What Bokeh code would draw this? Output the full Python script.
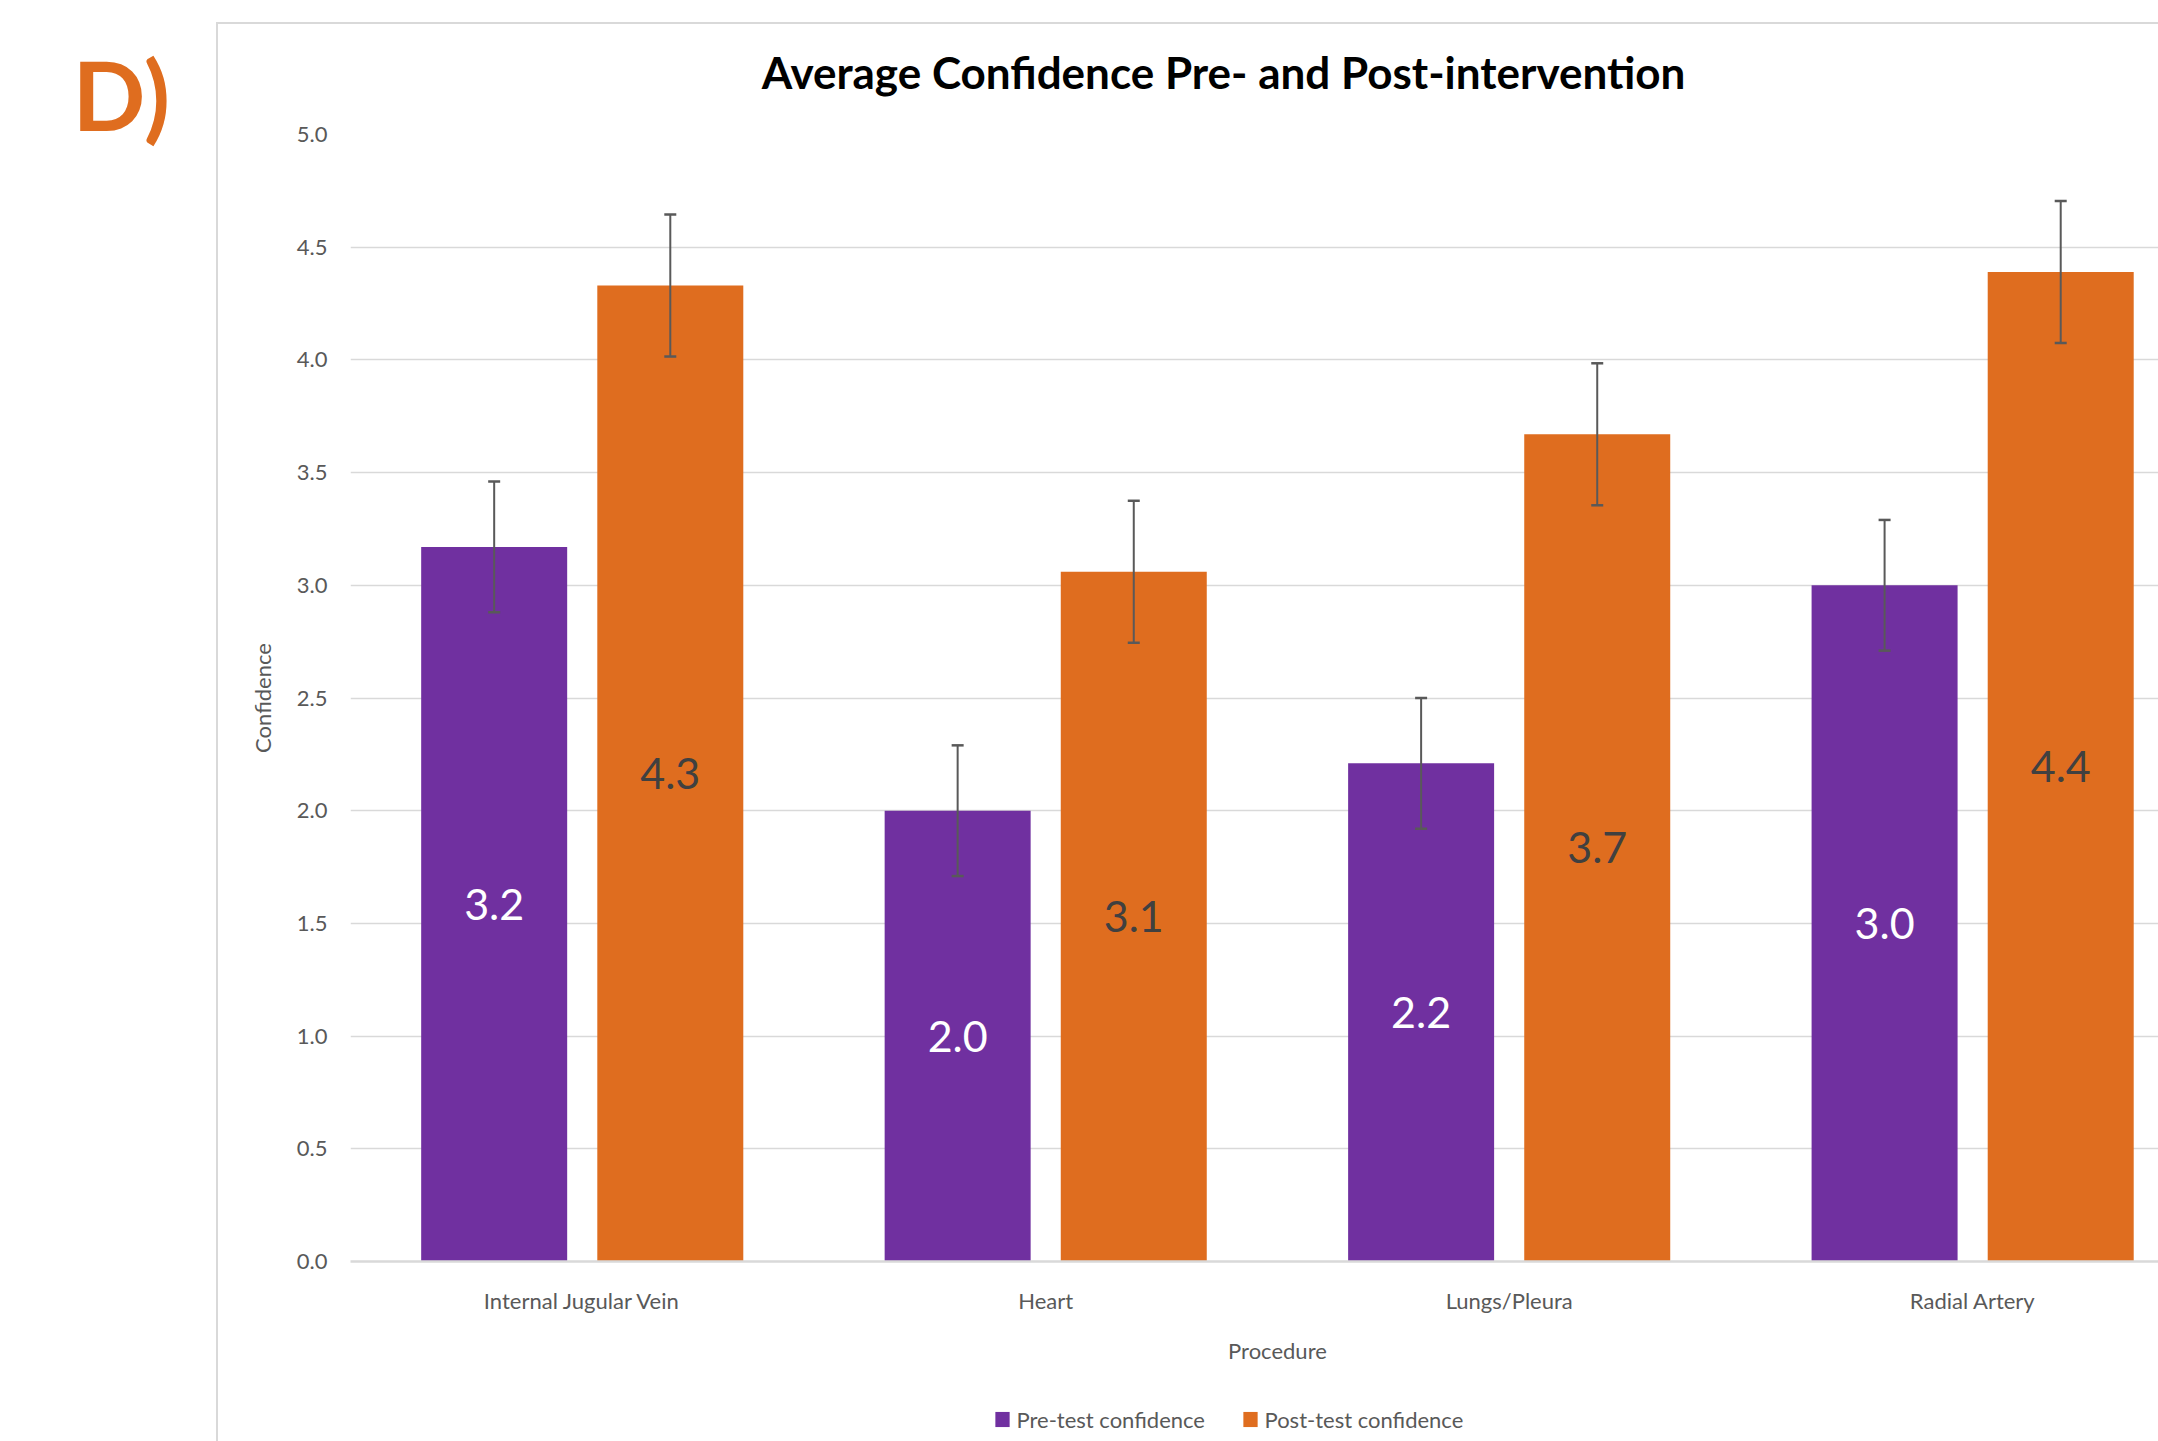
from bokeh.plotting import figure
from bokeh.models import (Range1d, FixedTicker, ColumnDataSource, Whisker, TeeHead, Label)
from bokeh.core.properties import value
from bokeh.embed import file_html
from bokeh.resources import INLINE

# ---------------- data ----------------
categories = ["Internal Jugular Vein", "Heart", "Lungs/Pleura", "Radial Artery"]
series_names = ["Pre-test confidence", "Post-test confidence"]
pre_values = [3.17, 2.00, 2.21, 3.00]
post_values = [4.33, 3.06, 3.67, 4.39]
pre_errors = [0.29, 0.29, 0.29, 0.29]
post_errors = [0.315, 0.315, 0.315, 0.315]
y_ticks = [0.0, 0.5, 1.0, 1.5, 2.0, 2.5, 3.0, 3.5, 4.0, 4.5, 5.0]

# ---------------- style / geometry ----------------
FONT = "Lato"
PURPLE = "#7030A0"
ORANGE = "#DF6D1F"
GREY_TXT = "#595959"
GRID = "#D9D9D9"
series_colors = [PURPLE, ORANGE]

W, H = 2158, 1441
FL, FR, FT, FB = 350, 2158, 134, 1261      # frame edges in canvas px
X_END, Y_END = 3.901, 5.0


def dx(px):
    return (px - FL) / (FR - FL) * X_END


def dy(py):
    return (FB - py) / (FB - FT) * Y_END


p = figure(width=W, height=H, output_backend="svg", toolbar_location=None,
           x_range=Range1d(0, X_END), y_range=Range1d(0, Y_END),
           min_border_left=FL, min_border_right=W - FR,
           min_border_top=FT, min_border_bottom=H - FB)
p.outline_line_color = None
p.background_fill_color = "white"
p.border_fill_color = None
# chart-area border (top and left edges) drawn behind the transparent canvas border
p.styles = {
    "background-color": "white",
    "background-image": "linear-gradient(#D9D9D9,#D9D9D9), linear-gradient(#D9D9D9,#D9D9D9)",
    "background-position": "216px 22px, 216px 22px",
    "background-size": "100% 2px, 2px 100%",
    "background-repeat": "no-repeat",
}

centers = [i + 0.5 for i in range(len(categories))]
off, bw = 0.19, 0.315


def make_source(vals, errs, sign):
    return ColumnDataSource(dict(
        x=[c + sign * off for c in centers], top=vals,
        lo=[v - e for v, e in zip(vals, errs)],
        hi=[v + e for v, e in zip(vals, errs)],
        ly=[v / 2 for v in vals],
        lab=[f"{v:.1f}" for v in vals]))


src_pre = make_source(pre_values, pre_errors, -1)
src_post = make_source(post_values, post_errors, +1)

p.vbar(x="x", top="top", width=bw, source=src_pre, fill_color=PURPLE, line_color=None)
p.vbar(x="x", top="top", width=bw, source=src_post, fill_color=ORANGE, line_color=None)

for src in (src_pre, src_post):
    w = Whisker(base="x", lower="lo", upper="hi", source=src, line_color=GREY_TXT, line_width=2,
                level="overlay",
                upper_head=TeeHead(size=12, line_color=GREY_TXT, line_width=2.5),
                lower_head=TeeHead(size=12, line_color=GREY_TXT, line_width=2.5))
    p.add_layout(w)

p.text(x="x", y="ly", text="lab", source=src_pre, text_align="center", text_baseline="middle",
       text_font=value(FONT), text_font_size="43px", text_color="white")
p.text(x="x", y="ly", text="lab", source=src_post, text_align="center", text_baseline="middle",
       text_font=value(FONT), text_font_size="43px", text_color="#404040")

# axes
p.xgrid.grid_line_color = None
p.ygrid.grid_line_color = GRID
p.ygrid.grid_line_width = 1.5
p.yaxis.ticker = FixedTicker(ticks=y_ticks)
p.yaxis.major_label_overrides = {t: f"{t:.1f}" for t in y_ticks}
p.yaxis.axis_line_color = None
p.yaxis.major_tick_line_color = None
p.yaxis.minor_tick_line_color = None
p.yaxis.major_label_text_font = FONT
p.yaxis.major_label_text_font_size = "22px"
p.yaxis.major_label_text_color = GREY_TXT
p.yaxis.major_label_standoff = 17
p.yaxis.axis_label = "Confidence"
p.yaxis.axis_label_text_font = FONT
p.yaxis.axis_label_text_font_size = "22px"
p.yaxis.axis_label_text_font_style = "normal"
p.yaxis.axis_label_text_color = GREY_TXT
p.yaxis.axis_label_standoff = 18

p.xaxis.ticker = FixedTicker(ticks=centers)
p.xaxis.major_label_overrides = {c: n for c, n in zip(centers, categories)}
p.xaxis.axis_line_color = GRID
p.xaxis.axis_line_width = 2.5
p.xaxis.major_tick_line_color = None
p.xaxis.minor_tick_line_color = None
p.xaxis.major_label_text_font = FONT
p.xaxis.major_label_text_font_size = "22px"
p.xaxis.major_label_text_color = GREY_TXT
p.xaxis.major_label_standoff = 19

# legend: colour swatches + series names (side-panel labels, positioned in data units)
legend_swatch_px = [1002, 1250]
legend_text_px = [1016, 1264]
for name, col, sx, tx in zip(series_names, series_colors, legend_swatch_px, legend_text_px):
    p.add_layout(Label(x=dx(sx), y=dy(1419), x_units="data", y_units="data", text=" ",
                       text_font_size="1px", padding=7, background_fill_color=col,
                       text_align="center", text_baseline="middle"), "above")
    p.add_layout(Label(x=dx(tx), y=dy(1419), x_units="data", y_units="data", text=name,
                       text_font=FONT, text_font_size="22px", text_color=GREY_TXT,
                       text_align="left", text_baseline="middle"), "below")

# x axis title centred on the full category span (kept in a side panel so it is not clipped)
p.add_layout(Label(x=sum(centers) / len(centers), y=dy(1350), x_units="data", y_units="data",
                   text="Procedure", text_font=FONT, text_font_size="22px",
                   text_color=GREY_TXT, text_baseline="middle", text_align="center"), "left")

# chart title
p.add_layout(Label(x=dx(1223), y=dy(71), x_units="data", y_units="data",
                   text="Average Confidence Pre- and Post-intervention",
                   text_font=FONT, text_font_size="44px", text_font_style="bold",
                   text_color="black", text_baseline="alphabetic", text_align="center"), "above")

# panel letter
p.add_layout(Label(x=dx(72), y=dy(93), x_units="data", y_units="data", text="D)",
                   text_font=FONT, text_font_size="96px", text_font_style="bold",
                   text_color=ORANGE, text_baseline="alphabetic", text_align="left"), "left")

open("out.html", "w").write(file_html(p, INLINE))
